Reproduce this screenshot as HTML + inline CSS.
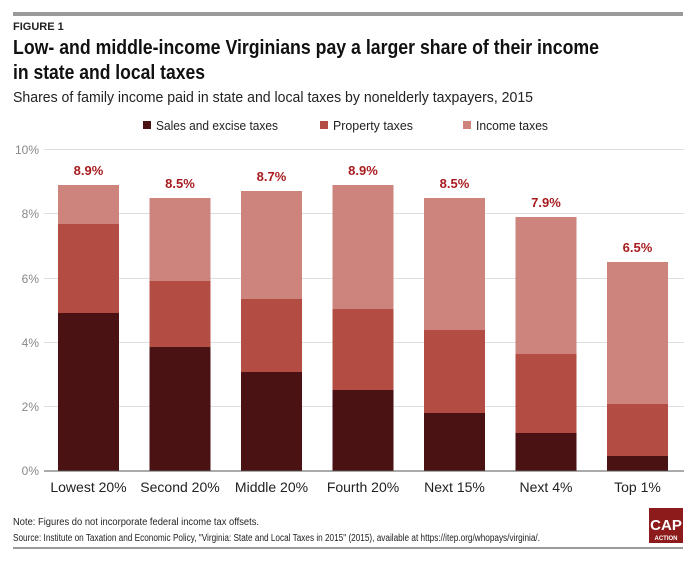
<!DOCTYPE html>
<html><head><meta charset="utf-8"><style>
body{margin:0;background:#fff;}
svg text{font-family:"Liberation Sans Narrow","Liberation Sans",sans-serif;}
</style></head><body>
<svg width="693" height="560" xmlns="http://www.w3.org/2000/svg" shape-rendering="crispEdges">
<rect x="13" y="12" width="670" height="4" fill="#9a9a9a"/>
<text x="13" y="30" font-size="11" font-weight="bold" fill="#222">FIGURE 1</text>
<text x="13" y="54" font-size="20" font-weight="bold" fill="#111" textLength="586" lengthAdjust="spacingAndGlyphs">Low- and middle-income Virginians pay a larger share of their income</text>
<text x="13" y="79" font-size="20" font-weight="bold" fill="#111" textLength="192" lengthAdjust="spacingAndGlyphs">in state and local taxes</text>
<text x="13" y="102" font-size="15" fill="#222" textLength="520" lengthAdjust="spacingAndGlyphs">Shares of family income paid in state and local taxes by nonelderly taxpayers, 2015</text>
<rect x="143" y="121" width="8" height="8" fill="#4a1213"/>
<text x="156" y="130" font-size="13" fill="#222" textLength="122" lengthAdjust="spacingAndGlyphs">Sales and excise taxes</text>
<rect x="320" y="121" width="8" height="8" fill="#b34c42"/>
<text x="333" y="130" font-size="13" fill="#222" textLength="80" lengthAdjust="spacingAndGlyphs">Property taxes</text>
<rect x="463" y="121" width="8" height="8" fill="#cc847d"/>
<text x="476" y="130" font-size="13" fill="#222" textLength="72" lengthAdjust="spacingAndGlyphs">Income taxes</text>
<g stroke="#dedede" stroke-width="1">
<line x1="44" x2="684" y1="149.5" y2="149.5"/>
<line x1="44" x2="684" y1="213.5" y2="213.5"/>
<line x1="44" x2="684" y1="278.5" y2="278.5"/>
<line x1="44" x2="684" y1="342.5" y2="342.5"/>
<line x1="44" x2="684" y1="406.5" y2="406.5"/>
</g>
<g font-size="12" fill="#888" text-anchor="end">
<text x="39" y="154">10%</text><text x="39" y="218">8%</text><text x="39" y="283">6%</text>
<text x="39" y="347">4%</text><text x="39" y="411">2%</text><text x="39" y="475">0%</text>
</g>
<g>
<rect x="58" y="185" width="61" height="286" fill="#cc847d"/>
<rect x="58" y="224" width="61" height="247" fill="#b34c42"/>
<rect x="58" y="313" width="61" height="158" fill="#4a1213"/>
<rect x="149.5" y="198" width="61" height="273" fill="#cc847d"/>
<rect x="149.5" y="281" width="61" height="190" fill="#b34c42"/>
<rect x="149.5" y="347" width="61" height="124" fill="#4a1213"/>
<rect x="241" y="191" width="61" height="280" fill="#cc847d"/>
<rect x="241" y="299" width="61" height="172" fill="#b34c42"/>
<rect x="241" y="372" width="61" height="99" fill="#4a1213"/>
<rect x="332.5" y="185" width="61" height="286" fill="#cc847d"/>
<rect x="332.5" y="309" width="61" height="162" fill="#b34c42"/>
<rect x="332.5" y="390" width="61" height="81" fill="#4a1213"/>
<rect x="424" y="198" width="61" height="273" fill="#cc847d"/>
<rect x="424" y="330" width="61" height="141" fill="#b34c42"/>
<rect x="424" y="413" width="61" height="58" fill="#4a1213"/>
<rect x="515.5" y="217" width="61" height="254" fill="#cc847d"/>
<rect x="515.5" y="354" width="61" height="117" fill="#b34c42"/>
<rect x="515.5" y="433" width="61" height="38" fill="#4a1213"/>
<rect x="607" y="262" width="61" height="209" fill="#cc847d"/>
<rect x="607" y="404" width="61" height="67" fill="#b34c42"/>
<rect x="607" y="456" width="61" height="15" fill="#4a1213"/>
</g>
<line x1="44" x2="684" y1="471" y2="471" stroke="#555" stroke-width="1.2"/>
<g font-size="13" font-weight="bold" fill="#a81c1f" text-anchor="middle">
<text x="88.5" y="175">8.9%</text><text x="180" y="188">8.5%</text><text x="271.5" y="181">8.7%</text>
<text x="363" y="175">8.9%</text><text x="454.5" y="188">8.5%</text><text x="546" y="207">7.9%</text><text x="637.5" y="252">6.5%</text>
</g>
<g font-size="14" fill="#222" text-anchor="middle">
<text x="88.5" y="492">Lowest 20%</text><text x="180" y="492">Second 20%</text><text x="271.5" y="492">Middle 20%</text>
<text x="363" y="492">Fourth 20%</text><text x="454.5" y="492">Next 15%</text><text x="546" y="492">Next 4%</text><text x="637.5" y="492">Top 1%</text>
</g>
<text x="13" y="525" font-size="10" fill="#222" textLength="246" lengthAdjust="spacingAndGlyphs">Note: Figures do not incorporate federal income tax offsets.</text>
<text x="13" y="541" font-size="10" fill="#222" textLength="527" lengthAdjust="spacingAndGlyphs">Source: Institute on Taxation and Economic Policy, "Virginia: State and Local Taxes in 2015" (2015), available at https://itep.org/whopays/virginia/.</text>
<rect x="649" y="508" width="34" height="35" fill="#8e1b1b"/>
<text x="666" y="530" font-size="15" font-weight="bold" fill="#fff" text-anchor="middle">CAP</text>
<text x="666" y="540" font-size="6" font-weight="bold" fill="#fff" text-anchor="middle">ACTION</text>
<rect x="13" y="547" width="670" height="2" fill="#9a9a9a"/>
</svg>
</body></html>
